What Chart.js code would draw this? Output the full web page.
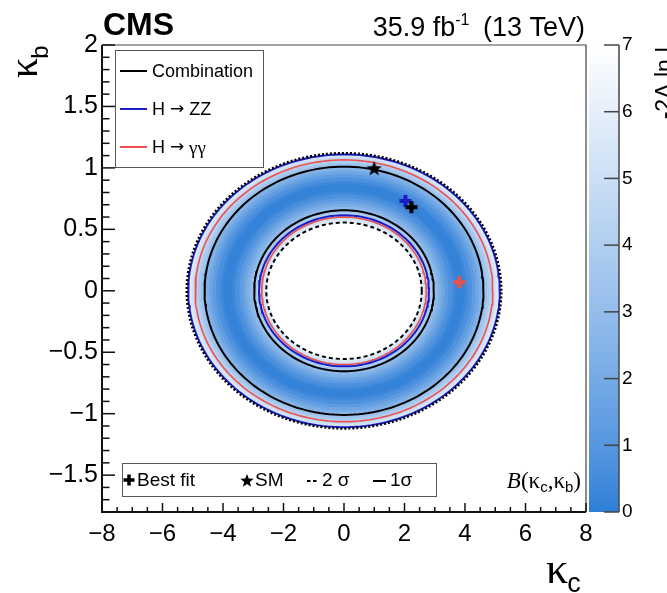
<!DOCTYPE html>
<html><head><meta charset="utf-8">
<script src="https://cdn.jsdelivr.net/npm/chart.js@4.4.1/dist/chart.umd.min.js"></script>
<style>
html,body{margin:0;padding:0;background:#fff;}
#wrap{position:relative;width:667px;height:593px;overflow:hidden;background:#fff;}
canvas{position:absolute;left:0;top:0;}
</style></head><body>
<div id="wrap"><canvas id="main" width="667" height="593"></canvas><canvas id="cbar" width="667" height="593"></canvas></div>
<script>
// ---------------- data ----------------
const xTicks = [-8, -6, -4, -2, 0, 2, 4, 6, 8];
const yTicks = [-1.5, -1, -0.5, 0, 0.5, 1, 1.5, 2];
const zTicks = [0, 1, 2, 3, 4, 5, 6, 7];

// elliptical contours centred at (0,0): semi-axis along kappa_c and along kappa_b
const contourNames = ['Combination 1σ outer', 'Combination 1σ inner', 'Combination 2σ outer', 'Combination 2σ inner',
                      'H→ZZ 1σ outer', 'H→ZZ 1σ inner', 'H→γγ 1σ outer', 'H→γγ 1σ inner'];
const contourKc = [4.61, 2.97, 5.20, 2.57, 5.15, 2.81, 4.92, 2.72];
const contourKb = [1.01, 0.655, 1.12, 0.555, 1.11, 0.615, 1.065, 0.60];

// -2 Delta lnL colour field: level and the kappa_b semi-axis of its outer / inner ellipse
const heatLevels  = [0.25, 0.5, 1, 1.5, 2, 2.5, 3, 3.5, 4, 4.5, 5, 5.5, 6, 6.25];
const heatOuterKb = [0.868, 0.888, 0.919, 0.945, 0.969, 0.990, 1.010, 1.029, 1.047, 1.064, 1.081, 1.097, 1.113, 1.120];
const heatInnerKb = [0.802, 0.782, 0.751, 0.725, 0.702, 0.680, 0.660, 0.641, 0.623, 0.606, 0.589, 0.573, 0.558, 0.550];
const heatAxisRatio = 4.58; // kappa_c / kappa_b semi-axis ratio

// best-fit points: Combination, H->ZZ, H->gg
const bestFitKc = [2.23, 2.03, 3.81];
const bestFitKb = [0.68, 0.73, 0.07];
const smKc = [1];
const smKb = [1];

// ---------------- helpers ----------------
const BLACK = '#000000', BLUE = '#1c1cc4', RED = '#ee5050';
const C0 = [46, 126, 216];
function zColor(v) {
  const t = Math.pow(Math.min(1, Math.max(0, v / 7)), 0.85);
  const c = C0.map(c => Math.round(c + (255 - c) * t));
  return `rgb(${c[0]},${c[1]},${c[2]})`;
}
function ellipse(a, b) {
  const n = 180, pts = [];
  for (let i = 0; i <= n; i++) {
    const t = 2 * Math.PI * i / n;
    pts.push({x: a * Math.cos(t), y: b * Math.sin(t)});
  }
  return pts;
}
function fmt(v) {
  const s = String(Math.abs(v));
  return v < 0 ? '\u2212' + s : s;
}
function starImage(r, color) {
  const c = document.createElement('canvas');
  c.width = c.height = Math.ceil(2 * r + 2);
  const g = c.getContext('2d');
  g.fillStyle = color;
  g.beginPath();
  for (let i = 0; i < 10; i++) {
    const rr = i % 2 ? r * 0.42 : r;
    const a = -Math.PI / 2 + i * Math.PI / 5;
    const px = c.width / 2 + rr * Math.cos(a), py = c.height / 2 + 1 + rr * Math.sin(a);
    i ? g.lineTo(px, py) : g.moveTo(px, py);
  }
  g.closePath(); g.fill();
  return c;
}
function richText(ctx, x, y, parts, align) {
  // parts: [text, font, dy]
  let w = 0;
  parts.forEach(p => { ctx.font = p[1]; w += ctx.measureText(p[0]).width; });
  let cx = align === 'right' ? x - w : x;
  parts.forEach(p => { ctx.font = p[1]; ctx.fillText(p[0], cx, y + (p[2] || 0)); cx += ctx.measureText(p[0]).width; });
}

// ---------------- datasets ----------------
const datasets = [];
// heat: outer ellipses largest -> smallest
for (let k = heatLevels.length - 1; k >= 0; k--) {
  const mid = (heatLevels[k] + (k ? heatLevels[k - 1] : 0)) / 2;
  const col = zColor(mid);
  datasets.push({data: ellipse(heatOuterKb[k] * heatAxisRatio, heatOuterKb[k]), showLine: true, fill: 'shape',
    backgroundColor: col, borderColor: col, borderWidth: 1, pointRadius: 0});
}
// heat: inner ellipses largest -> smallest
for (let k = 0; k < heatLevels.length; k++) {
  const col = k < heatLevels.length - 1 ? zColor((heatLevels[k] + heatLevels[k + 1]) / 2) : '#ffffff';
  datasets.push({data: ellipse(heatInnerKb[k] * heatAxisRatio, heatInnerKb[k]), showLine: true, fill: 'shape',
    backgroundColor: col, borderColor: col, borderWidth: 1, pointRadius: 0});
}
// contour lines
const contourStyle = [
  {c: BLACK, w: 2, d: []}, {c: BLACK, w: 2, d: []},
  {c: BLACK, w: 2.5, d: [2, 2]}, {c: BLACK, w: 2, d: [4, 3]},
  {c: BLUE, w: 2, d: []}, {c: BLUE, w: 2, d: []},
  {c: RED, w: 1.6, d: []}, {c: RED, w: 1.6, d: []}
];
const contourDrawOrder = [0, 1, 6, 7, 4, 5, 2, 3];
contourDrawOrder.forEach(i => {
  const s = contourStyle[i];
  datasets.push({label: contourNames[i], data: ellipse(contourKc[i], contourKb[i]), showLine: true, fill: false,
    borderColor: s.c, borderWidth: s.w, borderDash: s.d, pointRadius: 0});
});
// best fits
const bfColors = [BLACK, BLUE, RED];
[1, 2, 0].forEach(i => {
  datasets.push({data: [{x: bestFitKc[i], y: bestFitKb[i]}], showLine: false, pointStyle: 'cross',
    pointRadius: 6, pointBorderWidth: 4, pointBorderColor: bfColors[i], pointBackgroundColor: bfColors[i]});
});
// SM
datasets.push({data: smKc.map((v, i) => ({x: v, y: smKb[i]})), showLine: false,
  pointStyle: starImage(8, BLACK), pointRadius: 8});
// draw order: first element bottom
datasets.forEach((d, i) => { d.order = datasets.length - i; d.clip = 0; });

// ---------------- decorations plugin ----------------
const SANS = '"Liberation Sans"';
const deco = {
  id: 'deco',
  afterDraw(chart) {
    const ctx = chart.ctx, a = chart.chartArea, xs = chart.scales.x, ys = chart.scales.y;
    ctx.save();
    // frame
    ctx.strokeStyle = '#444'; ctx.lineWidth = 1.2;
    ctx.beginPath(); ctx.moveTo(a.left, a.top); ctx.lineTo(a.right, a.top); ctx.lineTo(a.right, a.bottom); ctx.stroke();
    ctx.strokeStyle = '#111'; ctx.lineWidth = 2;
    ctx.beginPath(); ctx.moveTo(a.left, a.top); ctx.lineTo(a.left, a.bottom); ctx.lineTo(a.right, a.bottom); ctx.stroke();
    // ticks
    ctx.lineWidth = 1.5;
    for (let v = -8; v <= 8.001; v += 0.5) {
      const px = xs.getPixelForValue(v), major = Math.abs(v / 2 - Math.round(v / 2)) < 1e-6;
      ctx.beginPath(); ctx.moveTo(px, a.bottom); ctx.lineTo(px, a.bottom - (major ? 9 : 5)); ctx.stroke();
    }
    for (let v = -1.8; v <= 2.001; v += 0.1) {
      const py = ys.getPixelForValue(v), major = Math.abs(v / 0.5 - Math.round(v / 0.5)) < 1e-6;
      ctx.beginPath(); ctx.moveTo(a.left, py); ctx.lineTo(a.left + (major ? 13 : 7.5), py); ctx.stroke();
    }
    // CMS + lumi
    ctx.fillStyle = '#000'; ctx.textBaseline = 'alphabetic'; ctx.textAlign = 'left';
    ctx.font = 'bold 32px ' + SANS;
    ctx.fillText('CMS', 103, 35);
    richText(ctx, 585, 36, [['35.9 fb', '27px ' + SANS, 0], ['-1', '16px ' + SANS, -11],
      ['\u2002(13 TeV)', '27px ' + SANS, 0]], 'right');
    // legend 1
    ctx.strokeStyle = '#555'; ctx.lineWidth = 1;
    ctx.fillStyle = '#fff';
    ctx.fillRect(115.5, 50.5, 148, 117);
    ctx.strokeRect(115.5, 50.5, 148, 117);
    ctx.textBaseline = 'middle';
    const f18 = '18px ' + SANS, arr = '17px "DejaVu Sans"';
    const ent = [[[['Combination', f18, 1]], BLACK, 71],
                 [[['H ', f18, 1], ['\u2192', arr, 1], [' ZZ', f18, 1]], BLUE, 109],
                 [[['H ', f18, 1], ['\u2192', arr, 1], [' \u03b3\u03b3', '19px "Liberation Serif"', 2]], RED, 147]];
    ent.forEach(e => {
      ctx.strokeStyle = e[1]; ctx.lineWidth = 2;
      ctx.beginPath(); ctx.moveTo(120, e[2]); ctx.lineTo(147, e[2]); ctx.stroke();
      ctx.fillStyle = '#000';
      richText(ctx, 152, e[2], e[0], 'left');
    });
    // legend 2
    ctx.strokeStyle = '#555'; ctx.lineWidth = 1;
    ctx.fillStyle = '#fff';
    ctx.fillRect(122.5, 463.5, 314, 33);
    ctx.strokeRect(122.5, 463.5, 314, 33);
    const ly = 480;
    ctx.strokeStyle = '#000'; ctx.lineWidth = 3.5;
    ctx.beginPath(); ctx.moveTo(129, ly - 5.5); ctx.lineTo(129, ly + 5.5); ctx.moveTo(123.5, ly); ctx.lineTo(134.5, ly); ctx.stroke();
    ctx.fillStyle = '#000'; ctx.font = '19px ' + SANS;
    ctx.fillText('Best fit', 137, ly + 1);
    ctx.drawImage(starImage(7, '#000'), 247 - 8, ly - 8);
    ctx.fillText('SM', 255, ly + 1);
    ctx.lineWidth = 2;
    ctx.beginPath(); ctx.moveTo(307, ly + 1); ctx.lineTo(310.5, ly + 1); ctx.moveTo(313, ly + 1); ctx.lineTo(316.5, ly + 1); ctx.stroke();
    ctx.fillText('2 \u03c3', 322, ly + 1);
    ctx.beginPath(); ctx.moveTo(373, ly + 1); ctx.lineTo(386, ly + 1); ctx.stroke();
    ctx.fillText('1\u03c3', 390, ly + 1);
    // B(kc,kb)
    ctx.textBaseline = 'alphabetic';
    const sf = '23px "Liberation Serif"', sub = '15px ' + SANS;
    richText(ctx, 581, 488, [['B', 'italic 23px "Liberation Serif"', 0], ['(\u03ba', sf, 0], ['c', sub, 4],
      [',\u03ba', sf, 0], ['b', sub, 4], [')', sf, 0]], 'right');
    // axis titles
    ctx.font = '44px "Liberation Serif"';
    ctx.fillText('\u03ba', 546, 583);
    const kw2 = ctx.measureText('\u03ba').width;
    ctx.font = '27px ' + SANS;
    ctx.fillText('c', 546 + kw2 - 1, 592);
    ctx.save();
    ctx.translate(37, 78); ctx.rotate(-Math.PI / 2);
    ctx.font = '40px "Liberation Serif"';
    ctx.fillText('\u03ba', 0, 0);
    const kw = ctx.measureText('\u03ba').width;
    ctx.font = '24px ' + SANS;
    ctx.fillText('b', kw - 1, 11);
    ctx.restore();
    ctx.restore();
  }
};

new Chart(document.getElementById('main'), {
  type: 'scatter',
  data: {datasets},
  options: {
    animation: false, responsive: false, devicePixelRatio: 1,
    layout: {padding: {left: 0, right: 81, top: 45, bottom: 0}},
    plugins: {legend: {display: false}, tooltip: {enabled: false}},
    scales: {
      x: {type: 'linear', min: -8, max: 8,
        afterBuildTicks: s => { s.ticks = xTicks.map(v => ({value: v})); },
        afterFit: s => { s.height = 81; },
        grid: {display: false, drawTicks: false}, border: {display: false},
        ticks: {callback: v => fmt(v), color: '#000', padding: 8, maxRotation: 0, autoSkip: false,
          font: {family: 'Liberation Sans', size: 24}}},
      y: {type: 'linear', min: -1.8, max: 2,
        afterBuildTicks: s => { s.ticks = yTicks.map(v => ({value: v})); },
        afterFit: s => { s.width = 102; },
        grid: {display: false, drawTicks: false}, border: {display: false},
        ticks: {callback: v => fmt(v), color: '#000', padding: 4, autoSkip: false,
          font: {family: 'Liberation Sans', size: 25}}}
    }
  },
  plugins: [deco]
});

// ---------------- colour bar ----------------
const cbDeco = {
  id: 'cbDeco',
  afterDraw(chart) {
    const ctx = chart.ctx, a = chart.chartArea, ys = chart.scales.y;
    ctx.save();
    ctx.strokeStyle = '#444'; ctx.lineWidth = 1.5;
    ctx.beginPath(); ctx.moveTo(a.right, a.top); ctx.lineTo(a.right, a.bottom); ctx.stroke();
    zTicks.forEach(v => {
      const py = ys.getPixelForValue(v);
      ctx.beginPath(); ctx.moveTo(a.right - 15, py); ctx.lineTo(a.right, py); ctx.stroke();
    });
    ctx.fillStyle = '#000';
    ctx.translate(672, 40); ctx.rotate(-Math.PI / 2);
    ctx.textAlign = 'right'; ctx.textBaseline = 'alphabetic';
    ctx.font = '23px ' + SANS;
    ctx.fillText('-2\u0394 ln L', 0, 0);
    ctx.restore();
  }
};
new Chart(document.getElementById('cbar'), {
  type: 'bar',
  data: {labels: ['z'], datasets: [{data: [[zTicks[0], zTicks[zTicks.length - 1]]], barPercentage: 1, categoryPercentage: 1,
    borderWidth: 0,
    backgroundColor: c => {
      const ch = c.chart, ar = ch.chartArea;
      if (!ar) return zColor(0);
      const g = ch.ctx.createLinearGradient(0, ar.bottom, 0, ar.top);
      for (let i = 0; i <= 14; i++) g.addColorStop(i / 14, zColor(7 * i / 14));
      return g;
    }}]},
  options: {
    animation: false, responsive: false, devicePixelRatio: 1,
    layout: {padding: {left: 589, right: 0, top: 45, bottom: 81}},
    plugins: {legend: {display: false}, tooltip: {enabled: false}},
    scales: {
      x: {display: false},
      y: {position: 'right', min: 0, max: 7,
        afterBuildTicks: s => { s.ticks = zTicks.map(v => ({value: v})); },
        afterFit: s => { s.width = 48; },
        grid: {display: false, drawTicks: false}, border: {display: false},
        ticks: {color: '#000', padding: 3, font: {family: 'Liberation Sans', size: 19}}}
    }
  },
  plugins: [cbDeco]
});
</script>
</body></html>
